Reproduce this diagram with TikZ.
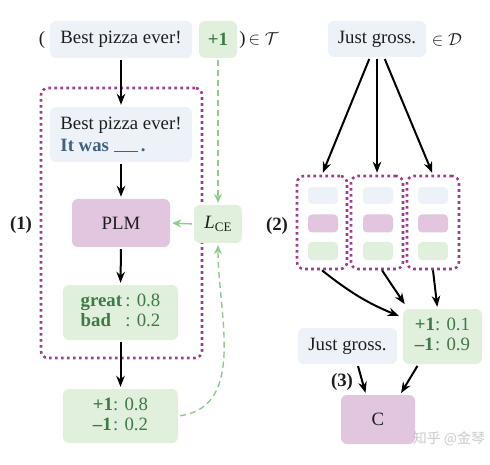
\documentclass[tikz,border=0pt]{standalone}
\usepackage{fontspec}
\setmainfont{Liberation Serif}
\newfontfamily\cjkfont{Noto Sans CJK SC}
\usetikzlibrary{arrows.meta,calc}
\definecolor{bluebox}{HTML}{ECF2F7}
\definecolor{greenbox}{HTML}{E1F0DD}
\definecolor{purplebox}{HTML}{E2C5DF}
\definecolor{greentext}{HTML}{3D7A45}
\definecolor{bluetext}{HTML}{3F6282}
\definecolor{dotpurple}{HTML}{9C3C97}
\definecolor{dashgreen}{HTML}{8DCC8B}
\definecolor{inktext}{HTML}{1E1E1E}
\begin{document}
\begin{tikzpicture}[x=1pt,y=1pt,
  every node/.style={font=\fontsize{18.8}{22}\selectfont, text=inktext, inner sep=0pt},
  box/.style={rounded corners=6pt, draw=none, align=center},
  bbox/.style={box, fill=bluebox},
  gbox/.style={box, fill=greenbox, text=greentext},
  pbox/.style={box, fill=purplebox},
  dotbox/.style={draw=dotpurple, line width=2.6pt, dash pattern=on 2.6pt off 3.4pt, rounded corners=7pt},
  arr/.style={line width=2pt, -{Stealth[length=11pt,width=8.5pt]}, shorten <=2pt, shorten >=2pt},
  garr/.style={line width=1.4pt, draw=dashgreen, -{Stealth[length=9pt,width=8pt]}, shorten <=2pt, shorten >=2pt},
  gdash/.style={garr, dash pattern=on 6pt off 4pt},
  lab/.style={font=\fontsize{18.8}{22}\selectfont\bfseries}
]
\useasboundingbox (0,0) rectangle (490,-465);

% ---------- left part ----------
\node[bbox, minimum width=142pt, minimum height=37pt] (b1) at (121,-39.5) {Best pizza ever!};
\node[gbox, minimum width=38pt, minimum height=37pt] (plus) at (218,-39.5) {\textbf{+1}};
\node (lp) at (42,-40) {(};
\node (rp) at (259,-40) {)$\,\in\mathcal{T}$};

\node[dotbox, minimum width=161pt, minimum height=270pt] (dot1) at (121.5,-223) {};

\node[bbox, align=left, minimum width=142pt, minimum height=55pt] (b2) at (121,-134.5)
  {Best pizza ever!\\ \textcolor{bluetext}{\textbf{It was \rule[-1pt]{24pt}{1pt}\,.}}};
\node[pbox, minimum width=98pt, minimum height=48pt] (plm) at (121,-223) {PLM};
\node[gbox, minimum width=48pt, minimum height=38pt, text=inktext] (lce) at (218,-224)
  {\textit{L}\raisebox{-2.5pt}{\fontsize{13}{13}\selectfont CE}};
\node[lab] (one) at (21,-225) {(1)};
\node[gbox, minimum width=115pt, minimum height=55pt] (gb) at (120.5,-312.5)
  {\begin{tabular}{@{}l@{\,}l@{}}\textbf{great} & : 0.8\\[-2pt] \textbf{bad} & : 0.2\end{tabular}};
\node[gbox, minimum width=115pt, minimum height=54pt] (pb) at (120.5,-416)
  {\begin{tabular}{@{}l@{}l@{}}\textbf{+1} & : 0.8\\[-2pt] \textbf{\textendash1} & : 0.2\end{tabular}};

\draw[arr] (b1.south) -- (b2.north);
\draw[arr] (b2.south) -- (plm.north);
\draw[arr] (plm.south) -- (gb.north);
\draw[arr] (gb.south) -- (pb.north);
\draw[garr] (lce.west) -- (plm.east);
\draw[gdash] (plus.south) -- (lce.north);
\draw[gdash] (pb.east) to[out=8,in=-90] (lce.south);

% ---------- right part ----------
\node[bbox, minimum width=98pt, minimum height=36pt] (jg) at (377,-39) {Just gross.};
\node (ind) at (447,-40) {$\in\mathcal{D}$};

\node[dotbox, minimum width=50pt, minimum height=93pt] (d1) at (322,-222.5) {};
\node[dotbox, minimum width=52pt, minimum height=93pt] (d2) at (377,-222.5) {};
\node[dotbox, minimum width=52pt, minimum height=93pt] (d3) at (433,-222.5) {};
\foreach \n/\x in {1/323,2/378,3/433}{
  \node[bbox, rounded corners=4pt, minimum width=30pt, minimum height=17pt] (s\n a) at (\x,-195.5) {};
  \node[pbox, rounded corners=4pt, minimum width=30pt, minimum height=18pt] (s\n b) at (\x,-223.5) {};
  \node[gbox, rounded corners=4pt, minimum width=30pt, minimum height=18pt] (s\n c) at (\x,-251) {};
}
\node[lab] (two) at (277,-226) {(2)};

\draw[arr] ([xshift=-7pt]jg.south) -- (d1.north);
\draw[arr] (jg.south) -- (d2.north);
\draw[arr] ([xshift=7pt]jg.south) -- (d3.north);

\node[gbox, minimum width=79pt, minimum height=55pt] (rb) at (442.5,-336.5)
  {\begin{tabular}{@{}l@{}l@{}}\textbf{+1} & : 0.1\\[-2pt] \textbf{\textendash1} & : 0.9\end{tabular}};
\node[bbox, minimum width=99pt, minimum height=36pt] (jg2) at (347.5,-346) {Just gross.};
\node[pbox, minimum width=74pt, minimum height=49pt] (c) at (378,-419.5) {C};
\node[lab] (three) at (342,-382) {(3)};

\draw[arr, shorten <=0pt] (d1.south) to[bend right=8] ([xshift=-2pt,yshift=-8pt]rb.north west);
\draw[arr, shorten <=0pt] ([xshift=5pt]d2.south) -- ([xshift=3pt,yshift=3pt]rb.north west);
\draw[arr, shorten <=0pt] (d3.south) -- ([xshift=-5pt]rb.north);
\draw[arr] ([xshift=10pt]jg2.south) -- ([xshift=-12pt]c.north);
\draw[arr] ([xshift=-24pt]rb.south) -- ([xshift=22pt]c.north);

\node[font=\cjkfont\fontsize{14}{14}\selectfont, text=black!25, opacity=0.8] (wm) at (449,-439) {知乎 @金琴};
\end{tikzpicture}
\end{document}
